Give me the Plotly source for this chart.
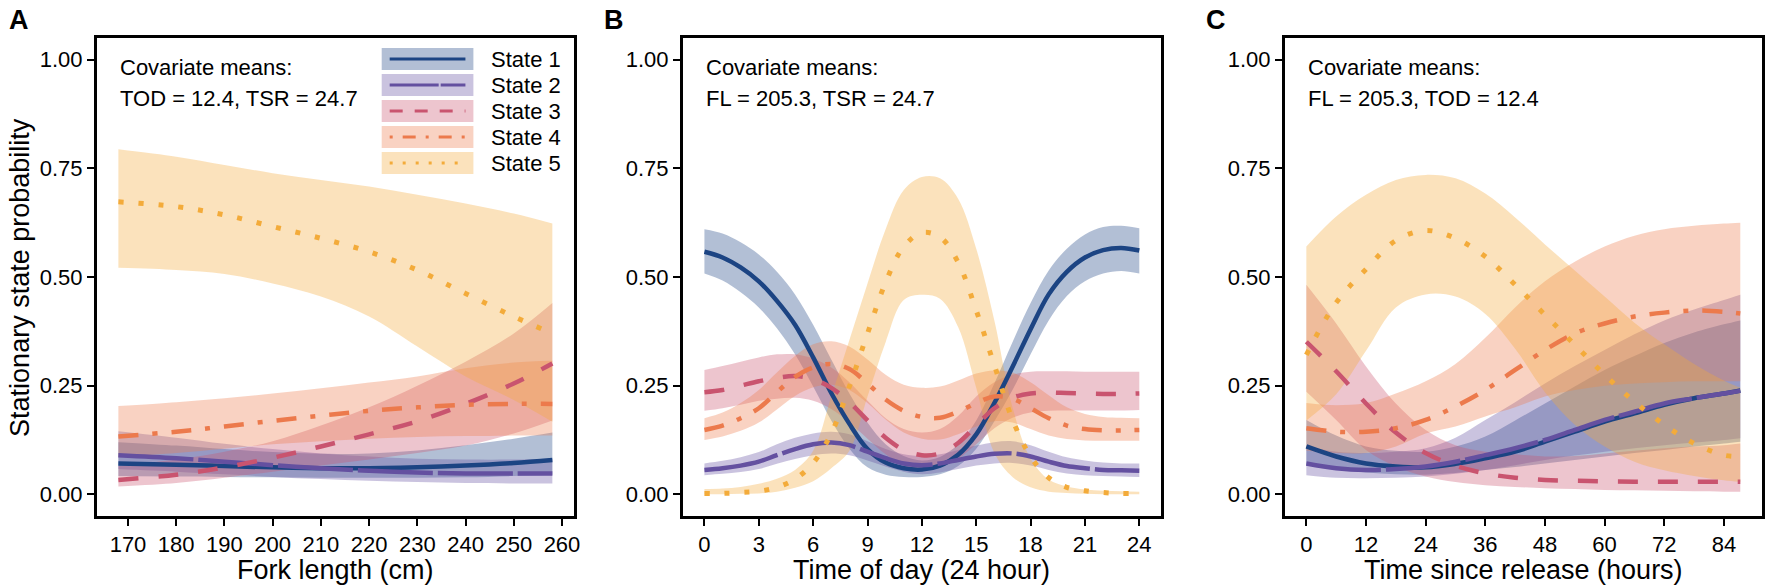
import plotly.graph_objects as go

W, H = 1772, 587
FONT = "Arial, Liberation Sans, sans-serif"

states = ["State 1", "State 2", "State 3", "State 4", "State 5"]
line_colors = ["#1c4483", "#6450a0", "#c9546f", "#ec7a4c", "#f3ab3a"]
plot_dash = ["solid", "75px,5px", "20px,20px", "20px,14px,5px,14px", "5px,15px"]
plot_width = [4.5, 4.5, 4.5, 4.5, 5]
legend_dash = ["solid", "49px,2px", "13px,12px", "3px,10px,13px,10px", "3px,10px"]
band_alpha = 0.34

y_ticks = [0, 0.25, 0.5, 0.75, 1.0]

# Panel A - fork length (cm)
fl = [168, 180, 190, 200, 210, 220, 230, 240, 250, 258]
fl_ticks = [170, 180, 190, 200, 210, 220, 230, 240, 250, 260]
fl_mean = [
    [0.071, 0.068, 0.065, 0.062, 0.060, 0.060, 0.062, 0.066, 0.072, 0.079],
    [0.090, 0.083, 0.075, 0.067, 0.060, 0.054, 0.050, 0.048, 0.048, 0.048],
    [0.033, 0.045, 0.062, 0.084, 0.110, 0.138, 0.168, 0.208, 0.255, 0.301],
    [0.133, 0.144, 0.156, 0.169, 0.181, 0.192, 0.200, 0.206, 0.208, 0.208],
    [0.673, 0.662, 0.643, 0.616, 0.589, 0.558, 0.516, 0.462, 0.409, 0.370],
]
fl_lo = [
    [0.042, 0.041, 0.040, 0.039, 0.038, 0.038, 0.038, 0.039, 0.042, 0.045],
    [0.058, 0.052, 0.046, 0.040, 0.035, 0.031, 0.028, 0.026, 0.025, 0.025],
    [0.018, 0.026, 0.038, 0.052, 0.066, 0.080, 0.095, 0.112, 0.140, 0.170],
    [0.085, 0.095, 0.105, 0.115, 0.122, 0.128, 0.132, 0.134, 0.135, 0.135],
    [0.521, 0.516, 0.507, 0.485, 0.455, 0.409, 0.340, 0.271, 0.217, 0.167],
]
fl_hi = [
    [0.120, 0.112, 0.104, 0.097, 0.093, 0.094, 0.101, 0.113, 0.128, 0.142],
    [0.145, 0.130, 0.116, 0.104, 0.094, 0.087, 0.082, 0.080, 0.080, 0.082],
    [0.065, 0.080, 0.098, 0.122, 0.158, 0.200, 0.250, 0.305, 0.370, 0.440],
    [0.203, 0.212, 0.221, 0.232, 0.244, 0.257, 0.271, 0.290, 0.303, 0.307],
    [0.794, 0.777, 0.758, 0.739, 0.723, 0.708, 0.689, 0.669, 0.646, 0.623],
]

# Panel B - time of day (24 hour)
tod = [0, 1, 2, 3, 4, 5, 6, 7, 8, 9, 10, 11, 12, 13, 14, 15, 16, 17, 18, 19, 20, 21, 22, 23, 24]
tod_ticks = [0, 3, 6, 9, 12, 15, 18, 21, 24]
tod_mean = [
    [0.558, 0.545, 0.522, 0.490, 0.445, 0.390, 0.315, 0.233, 0.162, 0.104, 0.073, 0.060, 0.057,
     0.066, 0.091, 0.138, 0.210, 0.293, 0.380, 0.460, 0.512, 0.545, 0.562, 0.567, 0.561],
    [0.056, 0.060, 0.066, 0.075, 0.090, 0.104, 0.115, 0.119, 0.113, 0.098, 0.083, 0.071, 0.067,
     0.071, 0.079, 0.087, 0.093, 0.094, 0.087, 0.075, 0.065, 0.060, 0.056, 0.055, 0.054],
    [0.235, 0.240, 0.250, 0.260, 0.268, 0.272, 0.265, 0.245, 0.212, 0.170, 0.130, 0.102, 0.090,
     0.094, 0.118, 0.158, 0.198, 0.222, 0.232, 0.234, 0.233, 0.232, 0.231, 0.231, 0.232],
    [0.148, 0.158, 0.175, 0.198, 0.235, 0.270, 0.292, 0.300, 0.288, 0.255, 0.218, 0.192, 0.178,
     0.176, 0.190, 0.210, 0.225, 0.220, 0.198, 0.175, 0.158, 0.150, 0.147, 0.147, 0.148],
    [0.002, 0.002, 0.004, 0.007, 0.016, 0.035, 0.072, 0.140, 0.248, 0.370, 0.488, 0.570, 0.602,
     0.592, 0.534, 0.423, 0.297, 0.172, 0.087, 0.038, 0.016, 0.008, 0.004, 0.002, 0.002],
]
tod_lo = [
    [0.508, 0.492, 0.465, 0.430, 0.382, 0.322, 0.248, 0.170, 0.105, 0.062, 0.045, 0.040, 0.040,
     0.046, 0.065, 0.105, 0.168, 0.240, 0.322, 0.400, 0.456, 0.490, 0.508, 0.514, 0.508],
    [0.044, 0.047, 0.051, 0.058, 0.070, 0.081, 0.090, 0.094, 0.090, 0.078, 0.064, 0.052, 0.046,
     0.050, 0.058, 0.066, 0.071, 0.072, 0.066, 0.056, 0.048, 0.044, 0.042, 0.041, 0.040],
    [0.192, 0.198, 0.206, 0.215, 0.220, 0.222, 0.215, 0.196, 0.165, 0.128, 0.092, 0.066, 0.056,
     0.062, 0.082, 0.115, 0.152, 0.176, 0.188, 0.192, 0.193, 0.193, 0.193, 0.193, 0.194],
    [0.125, 0.133, 0.146, 0.165, 0.195, 0.226, 0.246, 0.252, 0.240, 0.210, 0.172, 0.142, 0.128,
     0.126, 0.138, 0.156, 0.168, 0.165, 0.150, 0.135, 0.127, 0.124, 0.123, 0.123, 0.123],
    [0.000, 0.000, 0.001, 0.002, 0.006, 0.015, 0.030, 0.060, 0.100, 0.225, 0.350, 0.447, 0.459,
     0.450, 0.385, 0.245, 0.095, 0.040, 0.016, 0.006, 0.003, 0.001, 0.000, 0.000, 0.000],
]
tod_hi = [
    [0.610, 0.600, 0.580, 0.552, 0.512, 0.460, 0.390, 0.310, 0.232, 0.165, 0.115, 0.088, 0.078,
     0.086, 0.115, 0.170, 0.255, 0.350, 0.440, 0.515, 0.565, 0.598, 0.615, 0.618, 0.612],
    [0.071, 0.077, 0.085, 0.097, 0.115, 0.130, 0.140, 0.144, 0.138, 0.122, 0.104, 0.092, 0.088,
     0.092, 0.102, 0.112, 0.120, 0.122, 0.113, 0.098, 0.085, 0.078, 0.073, 0.071, 0.071],
    [0.286, 0.295, 0.305, 0.315, 0.322, 0.322, 0.312, 0.292, 0.258, 0.215, 0.175, 0.150, 0.142,
     0.150, 0.180, 0.225, 0.258, 0.275, 0.282, 0.283, 0.283, 0.282, 0.282, 0.282, 0.282],
    [0.175, 0.188, 0.210, 0.240, 0.280, 0.318, 0.345, 0.352, 0.340, 0.310, 0.275, 0.252, 0.245,
     0.248, 0.262, 0.278, 0.285, 0.280, 0.258, 0.228, 0.200, 0.185, 0.178, 0.176, 0.175],
    [0.012, 0.013, 0.017, 0.024, 0.036, 0.056, 0.100, 0.225, 0.355, 0.485, 0.610, 0.700, 0.730,
     0.727, 0.680, 0.565, 0.400, 0.200, 0.082, 0.034, 0.018, 0.011, 0.008, 0.007, 0.006],
]

# Panel C - time since release (hours)
tsr = [0, 6, 12, 18, 24, 30, 36, 42, 48, 54, 60, 66, 72, 78, 84, 87.3]
tsr_ticks = [0, 12, 24, 36, 48, 60, 72, 84]
tsr_mean = [
    [0.110, 0.087, 0.071, 0.064, 0.062, 0.070, 0.083, 0.098, 0.121, 0.144, 0.167, 0.186, 0.206, 0.221, 0.232, 0.239],
    [0.071, 0.060, 0.056, 0.058, 0.064, 0.075, 0.090, 0.106, 0.125, 0.148, 0.171, 0.190, 0.209, 0.221, 0.232, 0.238],
    [0.351, 0.283, 0.209, 0.142, 0.095, 0.066, 0.048, 0.038, 0.033, 0.031, 0.030, 0.029, 0.029, 0.029, 0.029, 0.029],
    [0.152, 0.144, 0.144, 0.152, 0.171, 0.202, 0.240, 0.286, 0.332, 0.370, 0.393, 0.409, 0.418, 0.423, 0.420, 0.416],
    [0.321, 0.441, 0.518, 0.584, 0.607, 0.589, 0.547, 0.482, 0.413, 0.344, 0.275, 0.213, 0.160, 0.117, 0.090, 0.087],
]
tsr_lo = [
    [0.068, 0.058, 0.050, 0.046, 0.045, 0.049, 0.056, 0.063, 0.071, 0.079, 0.087, 0.095, 0.102, 0.110, 0.117, 0.121],
    [0.044, 0.038, 0.037, 0.038, 0.041, 0.047, 0.056, 0.067, 0.079, 0.089, 0.098, 0.106, 0.113, 0.119, 0.125, 0.129],
    [0.236, 0.171, 0.102, 0.064, 0.041, 0.028, 0.021, 0.017, 0.014, 0.012, 0.010, 0.009, 0.008, 0.007, 0.006, 0.006],
    [0.100, 0.095, 0.095, 0.110, 0.140, 0.156, 0.179, 0.200, 0.225, 0.240, 0.250, 0.255, 0.258, 0.260, 0.260, 0.260],
    [0.170, 0.230, 0.330, 0.430, 0.460, 0.455, 0.415, 0.335, 0.235, 0.160, 0.110, 0.075, 0.055, 0.042, 0.032, 0.028],
]
tsr_hi = [
    [0.171, 0.135, 0.110, 0.100, 0.098, 0.110, 0.133, 0.170, 0.209, 0.248, 0.286, 0.318, 0.348, 0.372, 0.391, 0.400],
    [0.110, 0.098, 0.095, 0.098, 0.106, 0.130, 0.171, 0.212, 0.255, 0.295, 0.332, 0.368, 0.400, 0.425, 0.447, 0.459],
    [0.482, 0.393, 0.294, 0.209, 0.148, 0.113, 0.098, 0.092, 0.087, 0.088, 0.094, 0.100, 0.106, 0.110, 0.113, 0.117],
    [0.210, 0.205, 0.210, 0.232, 0.260, 0.300, 0.360, 0.430, 0.490, 0.535, 0.570, 0.595, 0.610, 0.618, 0.623, 0.625],
    [0.570, 0.639, 0.689, 0.723, 0.735, 0.727, 0.692, 0.637, 0.575, 0.515, 0.455, 0.395, 0.345, 0.300, 0.262, 0.245],
]

panels = [
    dict(x=fl, mean=fl_mean, lo=fl_lo, hi=fl_hi, ticks=fl_ticks, rng=[163.5, 262.5],
         title="Fork length (cm)", letter="A", note="TOD = 12.4, TSR = 24.7"),
    dict(x=tod, mean=tod_mean, lo=tod_lo, hi=tod_hi, ticks=tod_ticks, rng=[-1.2, 25.2],
         title="Time of day (24 hour)", letter="B", note="FL = 205.3, TSR = 24.7"),
    dict(x=tsr, mean=tsr_mean, lo=tsr_lo, hi=tsr_hi, ticks=tsr_ticks, rng=[-4.37, 91.67],
         title="Time since release (hours)", letter="C", note="FL = 205.3, TOD = 12.4"),
]

# pixel frames of the three plot areas
frames_px = [(97, 576), (685, 1165), (1289, 1768)]
top_px, bottom_px = 38, 516
letter_px = [7, 604, 1208]


def rgba(hex_color, a):
    h = hex_color.lstrip("#")
    r, g, b = int(h[0:2], 16), int(h[2:4], 16), int(h[4:6], 16)
    return f"rgba({r},{g},{b},{a})"


fig = go.Figure()

for p_i, p in enumerate(panels):
    xa = "x" if p_i == 0 else f"x{p_i + 1}"
    ya = "y" if p_i == 0 else f"y{p_i + 1}"
    # confidence bands
    for s in range(5):
        fig.add_trace(go.Scatter(x=p["x"], y=p["lo"][s], mode="lines", line=dict(width=0, shape="spline"),
                                 xaxis=xa, yaxis=ya, showlegend=False, hoverinfo="skip"))
        fig.add_trace(go.Scatter(x=p["x"], y=p["hi"][s], mode="lines", line=dict(width=0, shape="spline"),
                                 fill="tonexty", fillcolor=rgba(line_colors[s], band_alpha),
                                 xaxis=xa, yaxis=ya, showlegend=False, hoverinfo="skip"))
    # mean lines
    for s in range(5):
        fig.add_trace(go.Scatter(x=p["x"], y=p["mean"][s], mode="lines", name=states[s],
                                 line=dict(color=line_colors[s], width=plot_width[s], dash=plot_dash[s],
                                           shape="spline"),
                                 xaxis=xa, yaxis=ya, showlegend=False))

axis_common = dict(showline=True, mirror=True, linecolor="black", linewidth=2.5,
                   ticks="outside", ticklen=7, tickwidth=1.8, tickcolor="black",
                   showgrid=False, zeroline=False,
                   tickfont=dict(size=22, color="black", family=FONT))

layout = dict(width=W, height=H, margin=dict(l=0, r=0, t=0, b=0),
              paper_bgcolor="white", plot_bgcolor="white", showlegend=False,
              font=dict(family=FONT, color="black"))
annotations = []
shapes = []

for p_i, p in enumerate(panels):
    suffix = "" if p_i == 0 else str(p_i + 1)
    x0, x1 = frames_px[p_i]
    layout["xaxis" + suffix] = dict(axis_common, domain=[x0 / W, x1 / W], range=p["rng"],
                                    tickvals=p["ticks"], anchor="y" + suffix)
    layout["yaxis" + suffix] = dict(axis_common, domain=[1 - bottom_px / H, 1 - top_px / H],
                                    range=[-0.05, 1.05], tickvals=y_ticks, tickformat=".2f",
                                    anchor="x" + suffix)
    xd = "x" + suffix + " domain"
    yd = "y" + suffix + " domain"
    annotations.append(dict(text="Covariate means:", xref=xd, yref=yd, x=21 / 479, y=(bottom_px - 67) / 478,
                            xanchor="left", yanchor="middle", showarrow=False, font=dict(size=22)))
    annotations.append(dict(text=p["note"], xref=xd, yref=yd, x=21 / 479, y=(bottom_px - 98) / 478,
                            xanchor="left", yanchor="middle", showarrow=False, font=dict(size=22)))
    annotations.append(dict(text=p["title"], xref="paper", yref="paper", x=(x0 + x1) / 2 / W, y=1 - 570 / H,
                            xanchor="center", yanchor="middle", showarrow=False, font=dict(size=27)))
    annotations.append(dict(text="<b>" + p["letter"] + "</b>", xref="paper", yref="paper",
                            x=letter_px[p_i] / W, y=1 - 20 / H, xanchor="left", yanchor="middle",
                            showarrow=False, font=dict(size=27)))

annotations.append(dict(text="Stationary state probability", xref="paper", yref="paper",
                        x=20 / W, y=1 - 277 / H, textangle=-90, xanchor="center", yanchor="middle",
                        showarrow=False, font=dict(size=27)))

# legend in panel A (patch + line + label)
row_centers = [59, 85, 111, 137, 163]
for s in range(5):
    yc = (bottom_px - row_centers[s]) / 478
    hh = 11 / 478
    shapes.append(dict(type="rect", xref="x domain", yref="y domain",
                       x0=(383 - 97) / 479, x1=(475 - 97) / 479, y0=yc - hh, y1=yc + hh,
                       fillcolor=rgba(line_colors[s], band_alpha), line=dict(width=0), layer="above"))
    shapes.append(dict(type="line", xref="x domain", yref="y domain",
                       x0=(391 - 97) / 479, x1=(467 - 97) / 479, y0=yc, y1=yc,
                       line=dict(color=line_colors[s], width=3 if s == 0 else 2.8, dash=legend_dash[s]),
                       layer="above"))
    annotations.append(dict(text=states[s], xref="x domain", yref="y domain", x=(491 - 97) / 479, y=yc,
                            xanchor="left", yanchor="middle", showarrow=False, font=dict(size=22)))

layout["annotations"] = annotations
layout["shapes"] = shapes
fig.update_layout(**layout)

fig.write_html("out.html", config={"displayModeBar": False},
               post_script="document.body.style.margin='0';document.body.style.overflow='hidden';")
